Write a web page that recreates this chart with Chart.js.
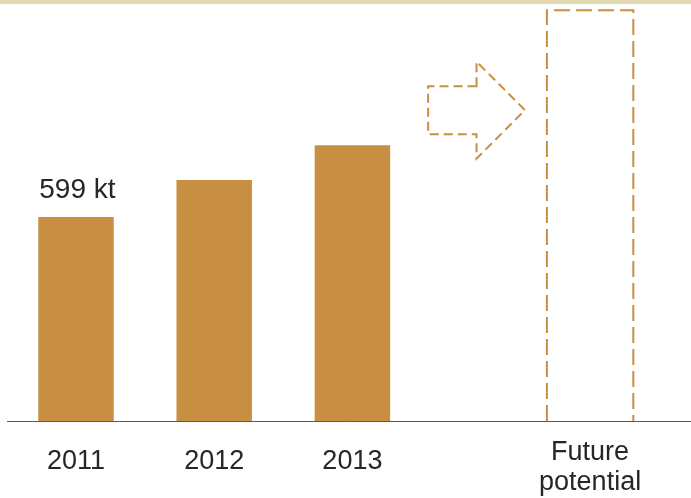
<!DOCTYPE html>
<html lang="en">
<head>
    <meta charset="UTF-8">
    <title>Production volume</title>
    <script src="https://cdn.jsdelivr.net/npm/chart.js@4.4.1/dist/chart.umd.min.js"></script>
    <style>
        body {
            margin: 0;
            background: #fff;
        }
        #wrap {
            position: relative;
            width: 691px;
            height: 498px;
        }
        #band {
            position: absolute;
            left: 0;
            top: 0;
            width: 100%;
            height: 4px;
            background: #e1d9b1;
        }
    </style>
</head>
<body>

<div id="wrap">
    <canvas id="volumeChart" width="691" height="498"></canvas>
    <div id="band"></div>
</div>

<script>
    // production, kt
    const years = ['2011', '2012', '2013'];
    const volumes = [599, 708, 810];
    const futureLabel = ['Future', 'potential'];
    const futureVolume = 1207;
    const unit = 'kt';

    const barColor = '#c88f43';
    const textColor = '#262626';
    const font = 'Arial, "Liberation Sans", sans-serif';

    // gap (in periods) between the last year and the future column
    const futureGap = 1.72;
    const futureX = years.length - 1 + futureGap;
    const tickValues = years.map((y, i) => i).concat([futureX]);
    const tickLabels = years.concat([futureLabel]);

    // value label, dashed future column and the arrow
    const decorations = {
        id: 'decorations',
        afterDatasetsDraw(chart) {
            const ctx = chart.ctx;
            const bars = chart.getDatasetMeta(0).data;
            const fut = chart.getDatasetMeta(1).data[0];

            // first year value
            const first = bars[0];
            ctx.save();
            ctx.fillStyle = textColor;
            ctx.font = '28px ' + font;
            ctx.textAlign = 'left';
            ctx.textBaseline = 'alphabetic';
            ctx.fillText(volumes[0] + ' ' + unit, first.x - first.width / 2 + 1, first.y - 19);
            ctx.restore();

            // future column, open at the bottom
            const l = fut.x - fut.width / 2;
            const r = fut.x + fut.width / 2;
            ctx.save();
            ctx.strokeStyle = barColor;
            ctx.lineWidth = 2;
            ctx.setLineDash([16, 6]);
            ctx.beginPath();
            ctx.moveTo(l, fut.base);
            ctx.lineTo(l, fut.y);
            ctx.lineTo(r, fut.y);
            ctx.lineTo(r, fut.base);
            ctx.stroke();

            // arrow between 2013 and the future column
            const last = bars[bars.length - 1];
            const ax0 = last.x + last.width / 2 + 38;
            const ax2 = l - 22;
            const ax1 = (ax0 + ax2) / 2;
            const cy = fut.y + 100;
            const shaft = 24;
            const head = 48.5;
            ctx.setLineDash([9, 5]);
            ctx.beginPath();
            ctx.moveTo(ax1, cy - shaft);
            ctx.lineTo(ax0, cy - shaft);
            ctx.lineTo(ax0, cy + shaft);
            ctx.lineTo(ax1, cy + shaft);
            ctx.lineTo(ax1, cy + head);
            ctx.lineTo(ax2, cy);
            ctx.lineTo(ax1, cy - head);
            ctx.closePath();
            ctx.stroke();
            ctx.restore();
        }
    };

    new Chart(document.getElementById('volumeChart'), {
        type: 'bar',
        data: {
            datasets: [{
                data: years.map((y, i) => ({ x: i, y: volumes[i] })),
                backgroundColor: barColor,
                borderWidth: 0,
                grouped: false,
                categoryPercentage: 1,
                barPercentage: 0.546
            }, {
                data: [{ x: futureX, y: futureVolume }],
                backgroundColor: 'rgba(0,0,0,0)',
                borderWidth: 0,
                grouped: false,
                categoryPercentage: 1,
                barPercentage: 0.625
            }]
        },
        options: {
            responsive: false,
            animation: false,
            layout: {
                padding: { left: 7, right: 0, top: 4, bottom: 0 }
            },
            plugins: {
                legend: { display: false },
                tooltip: { enabled: false }
            },
            scales: {
                x: {
                    type: 'linear',
                    offset: false,
                    min: -0.4993,
                    max: 4.45,
                    afterBuildTicks: scale => {
                        scale.ticks = tickValues.map(v => ({ value: v }));
                    },
                    afterFit: scale => {
                        scale.height = 77;
                    },
                    grid: { display: false, drawTicks: false, offset: false },
                    border: { display: true, color: '#5a5a5a', width: 1 },
                    ticks: {
                        autoSkip: false,
                        maxRotation: 0,
                        padding: 17,
                        color: textColor,
                        // single-line year labels sit a little lower than the two-line one
                        font: c => ({
                            family: font,
                            size: 27,
                            lineHeight: c.index === years.length ? '30px' : '48px'
                        }),
                        callback: (v, i) => tickLabels[i]
                    }
                },
                y: {
                    display: false,
                    min: 0,
                    max: 1225
                }
            }
        },
        plugins: [decorations]
    });
</script>

</body>
</html>
